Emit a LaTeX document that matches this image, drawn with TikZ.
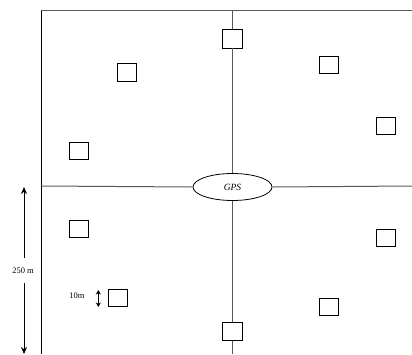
\documentclass[tikz,border=0pt]{standalone}
\usepackage{fontspec}
\setmainfont{Liberation Serif}
\usetikzlibrary{shapes.geometric,arrows.meta}
\begin{document}
\begin{tikzpicture}[x=1pt,y=-1pt,
  site/.style={draw=black,line width=0.9pt,minimum width=19pt,minimum height=17.5pt,inner sep=0pt,fill=white},
  road/.style={draw=black!65,line width=1pt},
  dim/.style={-{Stealth[length=7pt,width=6pt]},line width=0.8pt},
  lbl/.style={font=\fontsize{8.5}{10}\selectfont,inner sep=1pt}]
\useasboundingbox (0,0) rectangle (412,354);
% frame corners
\coordinate (tl) at (41,10.7);
\coordinate (tr) at (412,10.7);
\coordinate (bl) at (41,354);
\coordinate (ml) at (41,186);
\coordinate (mr) at (412,186);
\coordinate (vt) at (232.5,10.7);
\coordinate (vb) at (232.5,354);
\node[draw=black,ellipse,line width=0.8pt,minimum width=79pt,minimum height=27pt,inner sep=0pt] (gps) at (232.5,187) {\fontsize{9.5}{11}\selectfont\itshape GPS};
\node[site,minimum width=20pt,minimum height=19pt] (st) at (232.5,38.5) {};
\node[site,minimum width=20pt,minimum height=18pt] (sb) at (232.5,331.7) {};
\node[site] (s1) at (127,72.5) {};
\node[site] (s2) at (328.7,65) {};
\node[site] (s3) at (386,126) {};
\node[site] (s4) at (78.7,151) {};
\node[site] (s5) at (78.7,229) {};
\node[site] (s6) at (386,238) {};
\node[site] (s7) at (117.7,298) {};
\node[site] (s8) at (328.5,307) {};
% frame
\draw[road] (tl) -- (tr);
\draw[draw=black,line width=1pt] (tl) -- (bl);
% roads
\draw[road] (ml) -- (gps.west);
\draw[road] (gps.east) -- (mr);
\draw[road] (vt) -- (st.north);
\draw[road] (st.south) -- (gps.north);
\draw[road] (gps.south) -- (sb.north);
\draw[road] (sb.south) -- (vb);
% dimensions
\node[lbl] (d250) at (23,271) {250 m};
\coordinate (atop) at (24,187);
\coordinate (abot) at (24,354);
\coordinate (gtop) at (24,258);
\coordinate (gbot) at (24,283);
\draw[dim] (gtop) -- (atop);
\draw[dim] (gbot) -- (abot);
\node[lbl] (d10) at (77,296) {10m};
\coordinate (b1) at (98.3,290);
\coordinate (b2) at (98.3,307);
\draw[{Stealth[length=4.5pt,width=5pt]}-{Stealth[length=4.5pt,width=5pt]},line width=0.8pt] (b1) -- (b2);
\end{tikzpicture}
\end{document}
